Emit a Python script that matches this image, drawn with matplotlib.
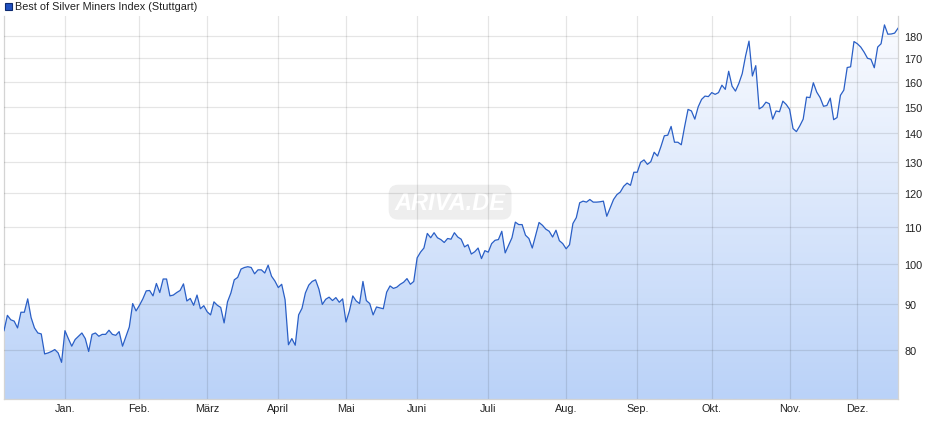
import numpy as np
import pandas as pd
import matplotlib
matplotlib.use("Agg")
import matplotlib.pyplot as plt
from matplotlib.ticker import FixedLocator, NullLocator
from matplotlib.patches import Rectangle

# ---------------- data ----------------
series_label = "Best of Silver Miners Index (Stuttgart)"

values = [
    84.1, 87.5, 86.5, 86.2, 84.7, 88.2, 88.2, 91.3, 87.0, 84.7,
    83.6, 83.4, 79.2, 79.4, 79.7, 80.1, 79.4, 77.5, 84.1, 82.4,
    80.8, 82.2, 82.9, 83.6, 82.4, 79.7, 83.3, 83.6, 82.9, 83.3,
    83.3, 84.2, 83.3, 83.1, 83.9, 80.8, 82.8, 84.9, 90.2, 88.5,
    89.8, 91.3, 93.2, 93.3, 92.0, 95.0, 92.8, 96.1, 96.1, 92.0,
    92.2, 92.8, 93.3, 94.9, 90.8, 91.4, 89.8, 92.2, 89.0, 89.7,
    88.3, 87.6, 90.6, 89.8, 89.3, 85.8, 90.6, 92.7, 95.9, 96.5,
    98.6, 99.0, 99.2, 99.0, 97.4, 98.4, 98.4, 97.6, 99.6, 96.8,
    95.6, 94.0, 94.8, 91.1, 81.1, 82.4, 81.0, 87.6, 89.1, 92.7,
    94.6, 95.5, 95.9,
    93.6, 90.0, 91.2, 91.7, 90.9, 91.6, 90.5, 91.3, 86.0, 88.5,
    92.0, 90.8, 90.2, 95.5, 90.9, 90.2, 87.6, 89.4, 89.2, 89.0,
    92.9, 94.4, 93.8, 94.1, 94.8, 95.3, 96.2, 94.8, 95.5, 101.5,
    103.0, 104.1, 108.1, 106.9, 108.3, 106.9, 106.4, 105.6, 106.7, 106.5,
    108.3, 107.1,
    106.5, 104.4, 105.0, 102.5, 103.1, 104.1, 101.3, 103.4, 103.0, 105.3,
    106.2, 106.4, 108.7, 102.8, 104.8, 106.9, 111.3, 110.6, 110.6, 107.6,
    106.7, 104.1, 107.6, 111.2, 110.4, 109.3, 108.7, 107.1, 109.0, 106.1,
    105.3, 103.9, 105.0, 110.9, 112.6, 117.0, 117.5, 117.2, 118.0, 117.2,
    117.2, 117.3,
    117.5, 113.0, 115.5, 118.0, 119.5, 120.3, 122.1, 123.1, 122.4, 126.6,
    126.6, 129.9, 130.7, 129.2, 130.1, 133.3, 132.0, 135.3, 139.1, 139.3,
    142.5, 136.8, 136.8, 135.9, 142.5, 148.9, 148.3, 145.2, 149.9, 152.8,
    154.1, 153.9, 155.5, 154.8, 155.5, 158.5, 156.8, 164.3, 158.1, 156.1,
    159.2, 163.3, 171.0, 177.6, 162.3, 166.7, 149.1, 149.9, 151.7, 151.1,
    145.2, 148.3, 148.0, 152.1, 150.8, 148.9, 141.7, 140.6, 142.7, 145.2,
    153.7, 153.5, 159.5, 155.7, 153.5, 150.1, 150.4, 153.3, 145.0, 145.8,
    154.4, 156.5, 165.9, 166.2, 177.4, 176.4, 174.9, 172.6, 169.9, 169.5,
    165.8, 174.9, 176.4, 185.2, 180.8, 180.9, 181.3, 183.6,
]

holidays = ["2024-12-24", "2024-12-25", "2024-12-26", "2024-12-31",
            "2025-01-01", "2025-04-18", "2025-04-21", "2025-05-01"]
dates = pd.bdate_range("2024-12-02", "2025-12-31", freq="C", holidays=holidays)

month_labels = ["Jan.", "Feb.", "März", "April", "Mai", "Juni",
                "Juli", "Aug.", "Sep.", "Okt.", "Nov.", "Dez."]
y_ticks = [80, 90, 100, 110, 120, 130, 140, 150, 160, 170, 180]
y_limits = (70.5, 189.5)

# ---------------- figure ----------------
n = len(values)
dates = dates[:n]
x = np.arange(n)
vals = np.array(values)

month_pos = [i for i in range(1, n) if dates[i].month != dates[i - 1].month]

fig = plt.figure(figsize=(9.4, 4.35), dpi=100)
ax = fig.add_axes([4 / 940, 35 / 435, 894 / 940, 383 / 435])
ax.set_yscale("log")

# gradient fill under the line
poly = ax.fill_between(x, vals, y_limits[0], facecolor="none", edgecolor="none")
top_c = np.array([251, 252, 255]) / 255
bot_c = np.array([186, 210, 248]) / 255
t = np.linspace(0, 1, 256)[:, None]
grad = (top_c * (1 - t) + bot_c * t)[:, None, :]
img = ax.imshow(grad, extent=[0, 1, 0, 1], transform=ax.transAxes,
                aspect="auto", zorder=1, interpolation="bilinear")
img.set_clip_path(poly.get_paths()[0], poly.get_transform())

ax.plot(x, vals, color="#2a5fc6", lw=0.9, zorder=3)

ax.set_xlim(0, n - 1)
ax.set_ylim(*y_limits)

ax.xaxis.set_major_locator(FixedLocator(month_pos))
ax.set_xticklabels(month_labels[:len(month_pos)])
ax.yaxis.set_major_locator(FixedLocator(y_ticks))
ax.yaxis.set_minor_locator(NullLocator())
ax.set_yticklabels([str(v) for v in y_ticks])
ax.yaxis.tick_right()

ax.set_axisbelow(False)
ax.grid(True, color="black", alpha=0.10, lw=0.9)
for g in ax.get_xgridlines() + ax.get_ygridlines():
    g.set_zorder(2)

ax.tick_params(axis="both", length=0, labelsize=7.8, colors="#222222")
ax.tick_params(axis="y", pad=4.5)
ax.tick_params(axis="x", pad=3)
for lab in ax.get_xticklabels() + ax.get_yticklabels():
    lab.set_family("Liberation Sans")

for s in ["left", "right", "bottom"]:
    ax.spines[s].set_color("#d4d4d4")
    ax.spines[s].set_linewidth(0.9)
ax.spines["top"].set_visible(False)

# watermark
ax.text(0.499, 0.514, "ARIVA.DE", transform=ax.transAxes, ha="center", va="center",
        fontsize=17, fontweight="bold", style="italic", family="Liberation Sans",
        color="white", zorder=1.5,
        bbox=dict(boxstyle="round,pad=0.25,rounding_size=0.4", fc="#eeeeee", ec="none"))

# legend
fig.patches.append(Rectangle((5 / 940, 1 - 11 / 435), 7 / 940, 7 / 435,
                             transform=fig.transFigure, facecolor="#1f50c0",
                             edgecolor="#0d2a70", lw=0.8))
fig.text(15 / 940, 1 - 7 / 435, series_label, fontsize=7.8, family="Liberation Sans",
         color="#222222", va="center", ha="left")

fig.savefig("out.png", dpi=100, facecolor="white")
